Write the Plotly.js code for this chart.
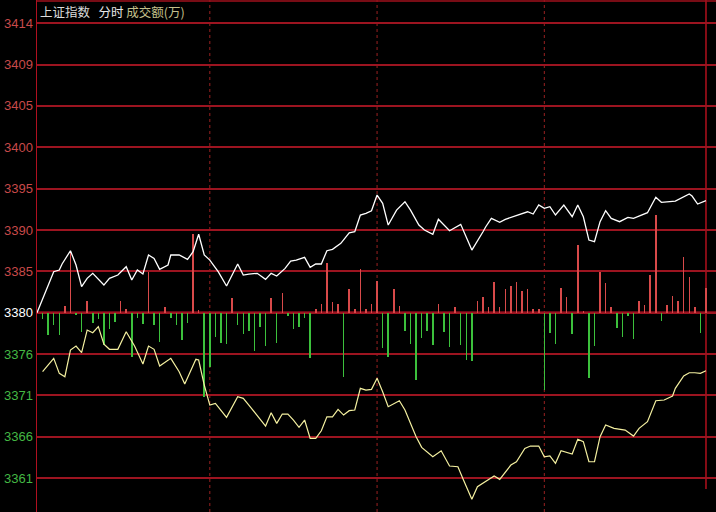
<!DOCTYPE html>
<html><head><meta charset="utf-8">
<script src="https://cdn.plot.ly/plotly-3.0.1.min.js"></script>
<style>html,body{margin:0;padding:0;background:#000;}#chart{width:716px;height:512px;}</style>
</head><body><div id="chart"></div>
<script>
// previous close and grid step of the price axis
const prevClose = 3380;
const gridStep = 4.83;
const tickSteps = [-4, -3, -2, -1, 0, 1, 2, 3, 4, 5, 6, 7];
const tickLabels = ['3361', '3366', '3371', '3376', '3380', '3385', '3390', '3395', '3400', '3405', '3409', '3414'];

// white line: 上证指数 (minute index, value)
const indexMinutes = [0,6,8,9,12,14,16,18,20,22,24,26,29,32,34,36,38,40,42,44,47,48,51,54,56,58,60,62,65,68,72,74,76,79,82,84,86,89,91,93,96,98,100,102,104,106,109,112,114,116,118,120,122,124,126,129,132,134,137,139,142,144,148,152,154,156,160,161,163,166,168,171,173,176,178,180,182,184,186,189,192,194,196,197,198,200,202,204,206,209,212,214,216,219,222,224,229,234,235,237,240];
const indexValues = [3380.00,3384.79,3384.99,3385.69,3387.24,3385.57,3383.04,3384.02,3384.60,3383.90,3383.23,3384.02,3384.40,3385.37,3383.82,3384.99,3384.52,3386.74,3386.35,3385.07,3385.57,3386.74,3386.74,3386.24,3387.12,3389.16,3386.74,3386.15,3384.79,3383.12,3385.69,3384.40,3384.52,3384.60,3383.90,3384.60,3384.29,3385.18,3386.04,3386.15,3386.47,3385.30,3385.69,3385.69,3387.24,3387.40,3388.10,3389.34,3389.46,3391.41,3391.61,3391.91,3393.74,3392.78,3390.24,3391.99,3392.96,3391.99,3390.24,3389.66,3389.16,3390.91,3389.58,3390.32,3388.88,3387.32,3389.46,3390.04,3391.02,3390.56,3390.91,3391.21,3391.41,3391.79,3391.53,3392.58,3392.19,3392.38,3391.41,3392.58,3391.21,3392.58,3391.21,3389.66,3388.49,3388.29,3390.63,3391.91,3391.02,3390.63,3391.14,3391.02,3391.29,3391.68,3393.48,3392.89,3393.04,3393.86,3393.63,3392.69,3393.08];

// yellow line: unweighted index
const equalMinutes = [2,6,8,10,12,14,16,18,20,22,24,26,29,32,35,38,40,42,44,48,51,53,57,58,60,62,64,68,72,74,76,79,82,84,86,88,90,92,94,96,98,100,102,104,106,108,110,112,114,116,118,120,122,124,126,130,132,136,138,142,145,148,151,153,156,158,161,164,166,168,170,172,175,177,180,182,184,186,188,192,194,196,198,200,202,204,207,211,214,216,219,222,225,228,229,232,234,236,238,240];
const equalValues = [3373.11,3374.67,3372.92,3372.53,3375.64,3376.11,3375.33,3377.98,3377.66,3378.37,3376.34,3375.73,3375.73,3377.78,3376.11,3374.01,3376.11,3375.73,3373.78,3374.67,3373.11,3371.67,3374.56,3374.48,3371.56,3369.22,3369.42,3367.78,3370.19,3370.00,3369.22,3367.94,3366.77,3368.32,3367.08,3368.17,3368.17,3367.47,3366.62,3367.47,3365.33,3365.33,3366.22,3367.85,3367.85,3368.72,3368.05,3368.56,3368.64,3371.17,3370.97,3371.05,3372.34,3370.77,3369.02,3369.72,3368.64,3365.52,3364.28,3363.18,3363.88,3362.10,3362.02,3360.46,3358.21,3359.68,3360.26,3360.93,3360.54,3361.43,3362.21,3362.60,3364.16,3364.43,3364.43,3363.18,3363.27,3362.41,3363.88,3363.50,3365.22,3364.94,3362.60,3362.60,3365.52,3366.89,3366.50,3366.30,3365.60,3366.50,3367.27,3369.72,3369.81,3370.27,3371.17,3372.61,3372.99,3372.99,3372.92,3373.23];

// red/green strength bars (signed, in index points from the previous close)
const barMinutes = [2,4,6,8,10,12,14,16,18,20,22,24,26,28,30,32,34,36,38,40,42,44,46,48,50,52,54,56,58,60,62,64,66,68,70,72,74,76,78,80,82,84,86,88,90,92,94,96,98,100,102,104,106,108,110,112,114,116,118,120,122,124,126,128,130,132,134,136,138,140,142,144,146,148,150,152,154,156,158,160,162,164,166,168,170,172,174,176,178,180,182,184,186,188,190,192,194,196,198,200,202,204,206,208,210,212,214,216,218,220,222,224,226,228,230,232,234,236,238,240];
const barValues = [-0.77,-2.60,-1.44,-2.60,0.78,7.24,-0.27,-2.22,1.37,-1.17,-0.77,-3.77,-1.94,-1.05,1.37,0.47,-5.14,-0.65,-1.32,4.79,-1.44,-3.39,0.70,-0.65,-1.44,-3.19,-1.17,9.19,0.32,-9.81,-6.38,-2.87,-3.50,-3.66,1.68,-1.44,-2.49,-2.10,-4.44,-1.70,-3.89,1.68,-3.50,2.34,-0.39,-1.94,-1.70,-0.65,-5.33,0.40,1.02,5.84,1.28,1.02,-7.47,2.73,0.40,5.07,0.40,1.02,3.74,-4.16,-5.14,2.73,0.78,-2.10,-3.66,-7.86,-2.99,-2.10,-3.77,1.02,-2.22,-3.97,0.63,-3.77,-5.52,-5.61,1.40,1.87,0.63,3.62,0.63,2.73,3.12,3.62,2.57,2.73,0.43,0.43,-9.03,-2.34,-3.66,2.85,1.80,-2.49,7.91,0.20,-7.66,-3.89,4.79,3.50,0.63,-1.82,-2.87,-0.39,-3.11,1.40,0.90,4.40,11.41,-0.93,0.90,1.95,1.40,6.47,4.13,0.63,-2.34,2.85];

const RED = '#d84a4a', GREEN = '#3cc03c';
const upX = [], upY = [], dnX = [], dnY = [];
barMinutes.forEach((m, i) => {
  if (barValues[i] >= 0) { upX.push(m); upY.push(barValues[i]); }
  else { dnX.push(m); dnY.push(barValues[i]); }
});

const tickvals = tickSteps.map(k => prevClose + k * gridStep);
const ticktext = tickLabels.map((t, i) => {
  const k = tickSteps[i];
  const c = k > 0 ? '#c84a4a' : (k < 0 ? '#44b844' : '#ffffff');
  return '<span style="color:' + c + '">' + t + '</span>';
});

const traces = [
  {type: 'bar', x: upX, y: upY, base: prevClose, width: 0.55,
   marker: {color: RED, line: {width: 0}}, hoverinfo: 'skip', showlegend: false},
  {type: 'bar', x: dnX, y: dnY, base: prevClose, width: 0.55,
   marker: {color: GREEN, line: {width: 0}}, hoverinfo: 'skip', showlegend: false},
  {type: 'scatter', mode: 'lines', x: equalMinutes, y: equalValues,
   line: {color: '#f4f0a0', width: 1.2}, showlegend: false},
  {type: 'scatter', mode: 'lines', x: indexMinutes, y: indexValues,
   line: {color: '#ffffff', width: 1.3}, showlegend: false}
];

const yLow = prevClose - 23.27, yHigh = prevClose + 36.52;
const shapes = [
  {type: 'line', xref: 'paper', x0: 0, x1: 1, yref: 'y', y0: prevClose, y1: prevClose,
   line: {color: '#d0102a', width: 2.4}, layer: 'below'},
  {type: 'line', xref: 'paper', x0: 0, x1: 1, yref: 'paper', y0: 0.998, y1: 0.998,
   line: {color: '#a0101c', width: 1.5}},
  {type: 'line', xref: 'x', x0: 240, x1: 240, yref: 'paper', y0: 0.045, y1: 1,
   line: {color: '#b0101c', width: 1.5}, layer: 'below'}
];
[62, 122, 182].forEach(m => shapes.push({type: 'line', xref: 'x', x0: m, x1: m, yref: 'paper', y0: 0, y1: 1,
  line: {color: '#9a2020', width: 1, dash: 'dot'}, layer: 'below'}));

const layout = {
  width: 716, height: 512,
  margin: {l: 37, r: 0, t: 0, b: 0},
  paper_bgcolor: '#000000', plot_bgcolor: '#000000',
  showlegend: false, bargap: 0,
  font: {family: 'Liberation Sans, Arial, sans-serif'},
  xaxis: {range: [0, 243.59], showgrid: false, zeroline: false, showticklabels: false,
          showline: false, ticks: '', fixedrange: true},
  yaxis: {range: [yLow, yHigh], tickmode: 'array', tickvals: tickvals, ticktext: ticktext,
          showgrid: true, gridcolor: '#9c1420', gridwidth: 2, zeroline: false,
          showline: true, linecolor: '#b01020', linewidth: 1.5, ticks: '',
          ticklabelstandoff: 0, tickfont: {size: 13, color: '#c84a4a', family: 'Liberation Sans, Arial, sans-serif'}},
  shapes: shapes,
  annotations: [{
    xref: 'paper', yref: 'paper', x: 0.0015, y: 0.977, xanchor: 'left', yanchor: 'middle',
    showarrow: false, align: 'left',
    text: '<span style="color:#dcdcdc">上证指数</span>&nbsp;&nbsp;&nbsp;<span style="color:#e8e8e8">分时</span> <span style="color:#c4c08c">成交额(万)</span>',
    font: {family: 'Noto Sans CJK SC, sans-serif', size: 12.5}
  }]
};

Plotly.newPlot('chart', traces, layout, {staticPlot: true, displayModeBar: false});
</script>
</body></html>
